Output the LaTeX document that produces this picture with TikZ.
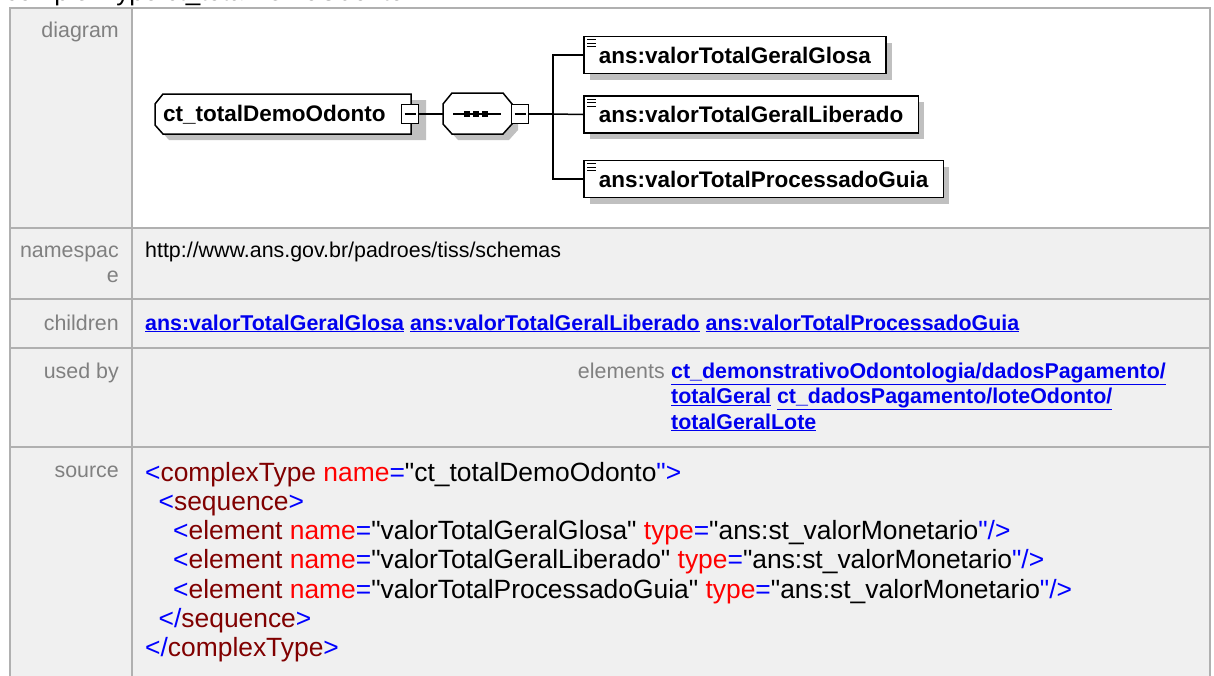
\documentclass[tikz,border=0pt]{standalone}
\usepackage{fontspec}
\setmainfont{Liberation Sans}[Ligatures=TeXOff]
\usepackage{xcolor}
\usetikzlibrary{shadows}

\definecolor{cellbg}{HTML}{F0F0F0}
\definecolor{cellline}{HTML}{B0B0B0}
\definecolor{lblgray}{HTML}{808080}
\definecolor{linkblue}{HTML}{0000EE}
\definecolor{shadowgray}{HTML}{C0C0C0}
\definecolor{xmlblue}{HTML}{0000FF}
\definecolor{tagred}{HTML}{800000}
\definecolor{attred}{HTML}{FF0000}

% colour pieces of the xml source
\newcommand{\xs}[1]{\textcolor{xmlblue}{#1}}
\newcommand{\xt}[1]{\textcolor{tagred}{#1}}
\newcommand{\xa}[1]{\textcolor{attred}{#1}}

\begin{document}
\begin{tikzpicture}[x=1pt, y=-1pt,
    cell/.style={fill=cellbg, draw=cellline, line width=2pt},
    lbl/.style={anchor=base east, text=lblgray, inner sep=0pt, font=\fontsize{21.4}{24}\selectfont},
    txt/.style={anchor=base west, inner sep=0pt, font=\fontsize{21.4}{24}\selectfont},
    lnk/.style={anchor=base west, inner sep=0pt, text=linkblue, font=\fontsize{21.4}{24}\selectfont\bfseries},
    src/.style={anchor=base west, inner sep=0pt, font=\fontsize{26.4}{30}\selectfont},
    conn/.style={line width=1.5pt},
    elbox/.style={draw, line width=1.5pt, fill=white, anchor=west, minimum height=37pt,
        inner xsep=15pt, font=\fontsize{22.5}{26}\selectfont\bfseries,
        drop shadow={shadow xshift=6pt, shadow yshift=-6pt, fill=shadowgray, opacity=1}},
    minusbox/.style={draw, line width=1.5pt, fill=white, minimum width=17pt, minimum height=19pt, inner sep=0pt,
        path picture={\draw[line width=1.5pt] ([xshift=3pt]path picture bounding box.west) -- ([xshift=-3pt]path picture bounding box.east);}}
]
    \useasboundingbox (0,0) rectangle (1214,675);
    \clip (0,0) rectangle (1214,675);

    % =================================================================
    % 1. TABLE CELLS
    % =================================================================
    \node[anchor=base west, inner sep=0pt, font=\fontsize{26}{30}\selectfont] (head) at (5,0.5) {complexType ct\_totalDemoOdonto};

    \draw[cell] (10,8) rectangle (132,228);
    \draw[cell, fill=white] (132,8) rectangle (1210,228);
    \draw[cell] (10,228) rectangle (132,299);
    \draw[cell] (132,228) rectangle (1210,299);
    \draw[cell] (10,299) rectangle (132,348);
    \draw[cell] (132,299) rectangle (1210,348);
    \draw[cell] (10,348) rectangle (132,447);
    \draw[cell] (132,348) rectangle (1210,447);
    \draw[cell] (10,447) rectangle (132,690);
    \draw[cell] (132,447) rectangle (1210,690);

    % row labels
    \node[lbl] (ldiag) at (119,37) {diagram};
    \node[lbl] (lns1) at (119,257) {namespac};
    \node[lbl] (lns2) at (119,282) {e};
    \node[lbl] (lchild) at (119,330) {children};
    \node[lbl] (lused) at (119,378) {used by};
    \node[lbl] (lsrc) at (119,477) {source};

    % =================================================================
    % 2. DIAGRAM
    % =================================================================
    \coordinate (seqW) at (443,114);
    \coordinate (trunk) at (553,114);

    % shadows
    \fill[shadowgray, shift={(6,6)}] (155,104) -- (163,94) -- (420,94) -- (420,134) -- (163,134) -- (155,125) -- cycle;
    \fill[shadowgray, shift={(6,6)}] (443,104) -- (452,93) -- (503,93) -- (512,104) -- (512,124) -- (503,134) -- (452,134) -- (443,124) -- cycle;

    % complex type box
    \draw[conn, fill=white] (155,104) -- (163,94) -- (411,94) -- (411,134) -- (163,134) -- (155,125) -- cycle;
    \node[anchor=base west, inner sep=0pt, font=\fontsize{22.5}{26}\selectfont\bfseries] (ct) at (163,121.5) {ct\_totalDemoOdonto};
    \node[minusbox] (ctm) at (410,114) {};

    % sequence box
    \draw[conn, fill=white] (443,104) -- (452,93) -- (503,93) -- (512,104) -- (512,124) -- (503,134) -- (452,134) -- (443,124) -- cycle;
    \draw[conn] (453,114) -- (501,114);
    \foreach \dx in {467,476,485}
        \fill (\dx-3,111) rectangle (\dx+3,117);
    \node[minusbox] (seqm) at (520,114) {};

    % child elements
    \node[elbox] (e1) at (583,55) {ans:valorTotalGeralGlosa};
    \node[elbox] (e2) at (583,114.5) {ans:valorTotalGeralLiberado};
    \node[elbox] (e3) at (583,179) {ans:valorTotalProcessadoGuia};
    \foreach \e in {e1,e2,e3}
        \foreach \dy in {4,7.5,11}
            \draw[line width=1.4pt] ([shift={(4,\dy)}]\e.north west) -- ([shift={(13,\dy)}]\e.north west);

    % connectors
    \draw[conn] (ctm.east) -- (seqW);
    \draw[conn] (seqm.east) -- (trunk);
    \draw[conn] (trunk) |- (e1.west);
    \draw[conn] (trunk) -- (e2.west);
    \draw[conn] (trunk) |- (e3.west);

    % =================================================================
    % 3. NAMESPACE, CHILDREN, USED BY
    % =================================================================
    \node[txt] (ns) at (145,257) {http://www.ans.gov.br/padroes/tiss/schemas};
    \node[lnk] (ch) at (145,330) {\underline{ans:valorTotalGeralGlosa} \underline{ans:valorTotalGeralLiberado} \underline{ans:valorTotalProcessadoGuia}};

    \node[lbl] (elems) at (665,378) {elements};
    \node[lnk] (ub1) at (671,378) {\underline{ct\_demonstrativoOdontologia/dadosPagamento/}};
    \node[lnk] (ub2) at (671,403.5) {\underline{totalGeral} \underline{ct\_dadosPagamento/loteOdonto/}};
    \node[lnk] (ub3) at (671,429) {\underline{totalGeralLote}};

    % =================================================================
    % 4. SOURCE
    % =================================================================
    \node[src] (s1) at (145,481) {\xs{<}\xt{complexType} \xa{name}\xs{=}"ct\_totalDemoOdonto\xs{">}};
    \node[src] (s2) at (158.5,510.3) {\xs{<}\xt{sequence}\xs{>}};
    \node[src] (s3) at (173,539.6) {\xs{<}\xt{element} \xa{name}\xs{=}"valorTotalGeralGlosa" \xa{type}\xs{=}"ans:st\_valorMonetario\xs{"/>}};
    \node[src] (s4) at (173,568.9) {\xs{<}\xt{element} \xa{name}\xs{=}"valorTotalGeralLiberado" \xa{type}\xs{=}"ans:st\_valorMonetario\xs{"/>}};
    \node[src] (s5) at (173,598.2) {\xs{<}\xt{element} \xa{name}\xs{=}"valorTotalProcessadoGuia" \xa{type}\xs{=}"ans:st\_valorMonetario\xs{"/>}};
    \node[src] (s6) at (158.5,627.5) {\xs{</}\xt{sequence}\xs{>}};
    \node[src] (s7) at (145,656.8) {\xs{</}\xt{complexType}\xs{>}};

\end{tikzpicture}
\end{document}
